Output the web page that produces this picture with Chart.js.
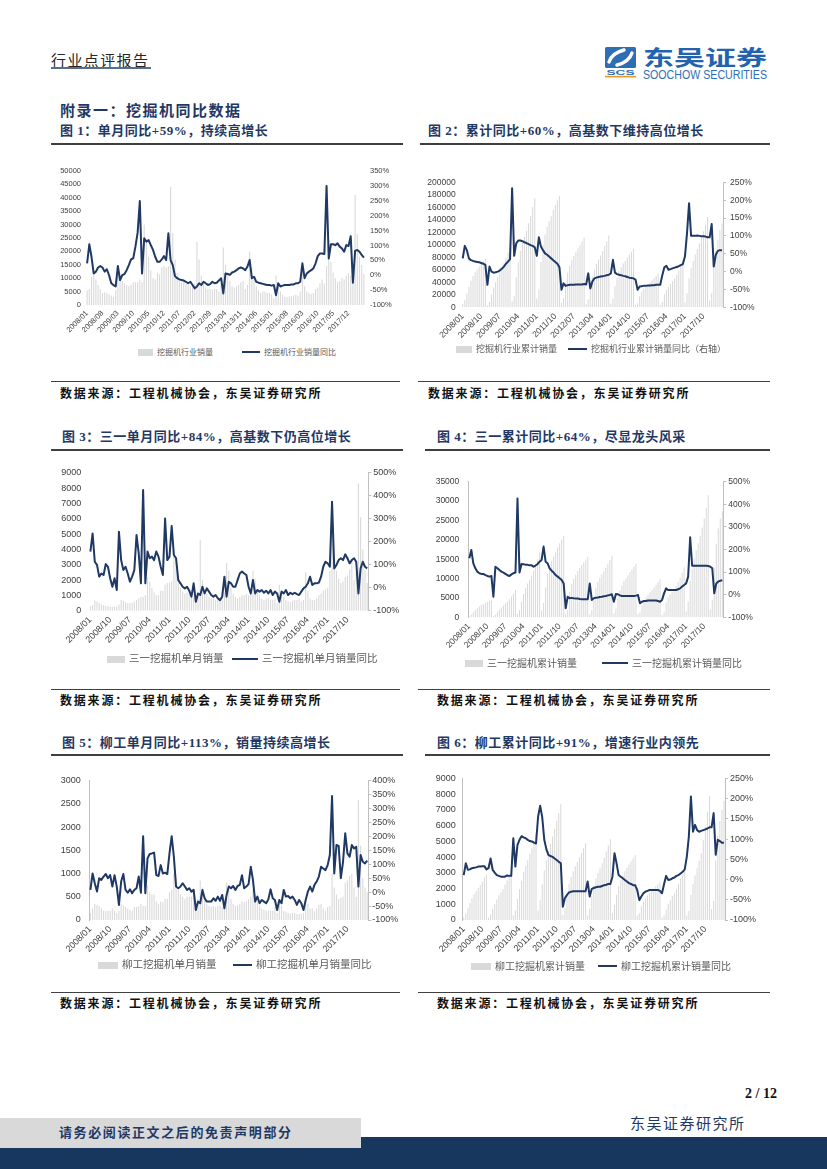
<!DOCTYPE html>
<html>
<head>
<meta charset="utf-8">
<title>挖掘机同比数据</title>
<script src="https://cdn.jsdelivr.net/npm/chart.js@4.4.1/dist/chart.umd.min.js"></script>
<style>
  html, body { margin: 0; padding: 0; background: #fff; }
  #page { position: relative; width: 827px; height: 1169px; overflow: hidden; background: #fff;
          font-family: 'Noto Sans CJK SC', sans-serif; }
  .t { position: absolute; white-space: nowrap; line-height: 1; }
  .head { font-size: 15px; color: #262626; letter-spacing: 1.4px; }
  .sec { font-size: 15px; font-weight: bold; color: #1F3864; letter-spacing: 1.5px; }
  .title { font-family: 'Liberation Serif', 'Noto Sans CJK SC', serif; font-size: 13px; font-weight: bold;
           color: #1F3864; letter-spacing: 0.5px; }
  .src { font-size: 12px; font-weight: bold; color: #111; letter-spacing: 1.8px; }
  .rule { position: absolute; height: 2px; background: #3F3F3F; }
  .thin { position: absolute; height: 1px; background: #404040; }
  .lg { position: absolute; white-space: nowrap; line-height: 1; color: #595959; }
  .sw { position: absolute; }
  canvas { position: absolute; }
</style>
</head>
<body>
<div id="page">
  <div class="t head" style="left:51px;top:51.5px;">行业点评报告</div>
  <div style="position:absolute;left:51px;top:67px;width:100px;height:2px;background:#586F8C;"></div>

  <svg style="position:absolute;left:603px;top:44px;" width="170" height="40" viewBox="0 0 170 40">
    <rect x="2" y="3" width="31" height="21" rx="1.5" fill="#2F6EB5"/>
    <path d="M6 18 Q9 9 21 6" stroke="#fff" stroke-width="3.4" fill="none" stroke-linecap="round"/>
    <path d="M14 21 Q26 18 29 9" stroke="#fff" stroke-width="3.4" fill="none" stroke-linecap="round"/>
    <text x="17.5" y="30.7" font-size="6.5" font-weight="bold" fill="#2F6EB5" text-anchor="middle"
          font-family="Liberation Sans, Arial, sans-serif" textLength="28" lengthAdjust="spacingAndGlyphs">SCS</text>
    <rect x="2" y="31.8" width="31" height="1.6" fill="#F0961E"/>
    <text x="40" y="20.5" font-size="21" font-weight="bold" fill="#2262AE" font-family="Noto Sans CJK SC, sans-serif"
          textLength="124" lengthAdjust="spacingAndGlyphs">东吴证券</text>
    <text x="40" y="34.7" font-size="12" fill="#2F6EB5" font-family="Liberation Sans, Arial, sans-serif"
          textLength="124" lengthAdjust="spacingAndGlyphs">SOOCHOW SECURITIES</text>
  </svg>

  <div class="t sec" style="left:60px;top:101.7px;">附录一：挖掘机同比数据</div>

  <div class="t title" style="left:60px;top:123.5px;">图 1：单月同比+59%，持续高增长</div>
  <div class="t title" style="left:428px;top:123.5px;">图 2：累计同比+60%，高基数下维持高位增长</div>
  <div class="rule" style="left:51px;top:143px;width:352px;"></div>
  <div class="rule" style="left:420px;top:143px;width:350px;"></div>

  <div class="thin" style="left:51px;top:381px;width:349px;"></div>
  <div class="thin" style="left:418px;top:381px;width:352px;"></div>
  <div class="t src" style="left:60px;top:386.7px;">数据来源：工程机械协会，东吴证券研究所</div>
  <div class="t src" style="left:428px;top:386.7px;">数据来源：工程机械协会，东吴证券研究所</div>

  <div class="t title" style="left:62px;top:430px;">图 3：三一单月同比+84%，高基数下仍高位增长</div>
  <div class="t title" style="left:437px;top:430px;">图 4：三一累计同比+64%，尽显龙头风采</div>
  <div class="rule" style="left:51px;top:448.5px;width:352px;"></div>
  <div class="rule" style="left:425px;top:448.5px;width:345px;"></div>

  <div class="thin" style="left:51px;top:689px;width:349px;"></div>
  <div class="thin" style="left:418px;top:689px;width:352px;"></div>
  <div class="t src" style="left:60px;top:694px;">数据来源：工程机械协会，东吴证券研究所</div>
  <div class="t src" style="left:437px;top:694px;">数据来源：工程机械协会，东吴证券研究所</div>

  <div class="t title" style="left:62px;top:736px;">图 5：柳工单月同比+113%，销量持续高增长</div>
  <div class="t title" style="left:437px;top:736px;">图 6：柳工累计同比+91%，增速行业内领先</div>
  <div class="rule" style="left:51px;top:754px;width:352px;"></div>
  <div class="rule" style="left:425px;top:754px;width:345px;"></div>

  <div class="thin" style="left:51px;top:992px;width:349px;"></div>
  <div class="thin" style="left:418px;top:992px;width:352px;"></div>
  <div class="t src" style="left:60px;top:997px;">数据来源：工程机械协会，东吴证券研究所</div>
  <div class="t src" style="left:437px;top:997px;">数据来源：工程机械协会，东吴证券研究所</div>

  <div class="t" style="right:50px;top:1087px;font-family:'Liberation Serif',serif;font-weight:bold;font-size:14px;color:#111;">2 / 12</div>
  <div class="t" style="left:630px;top:1114.7px;font-size:15px;color:#1F3864;letter-spacing:1.5px;">东吴证券研究所</div>

  <div style="position:absolute;left:0;top:1137px;width:827px;height:32px;background:#17375E;"></div>
  <div style="position:absolute;left:0;top:1118px;width:361px;height:30px;background:#D9D9D9;"></div>
  <div class="t" style="left:59px;top:1124.5px;font-size:13px;font-weight:bold;color:#1F3864;letter-spacing:1.6px;">请务必阅读正文之后的免责声明部分</div>
</div>

<script>
// months 2008/01 .. 2018/07
const months = [];
for (let y = 2008; y <= 2018; y++) {
  for (let m = 1; m <= 12; m++) {
    if (months.length < 127) months.push(y + '/' + String(m).padStart(2, '0'));
  }
}

// 图1 挖掘机行业单月销量 (台) / 同比 (%)
const industryMonthly = [
  5500, 6000, 10500, 11000, 9500, 7500, 6000, 4500, 4800, 4500, 4000, 3500,
  3000, 5500, 12000, 11000, 9000, 8000, 7500, 7000, 7500, 8500, 8500, 8500,
  9500, 8500, 30000, 24000, 18000, 13000, 10000, 9500, 12000, 11500, 14000, 14500,
  14000, 14500, 44000, 27000, 17000, 12000, 9500, 8500, 9000, 8000, 7500, 7000,
  7000, 8000, 23500, 17000, 11000, 9000, 6500, 6000, 6000, 5500, 6000, 6000,
  5000, 8000, 21500, 15000, 11000, 9000, 7000, 6500, 7000, 7500, 8500, 9000,
  6000, 7500, 20000, 14000, 10000, 7000, 5500, 4500, 5000, 5000, 4500, 4500,
  4000, 2500, 11000, 7500, 5000, 3800, 3200, 3000, 3300, 3300, 3500, 3900,
  3500, 5000, 12500, 7000, 5000, 4500, 4000, 4500, 6000, 6500, 8000, 9500,
  8000, 14500, 24000, 16000, 12000, 10000, 8500, 9000, 10000, 9500, 11000, 12000,
  11000, 11500, 41000, 26500, 18000, 15000, 11500
];
const industryMonthlyYoY = [
  40, 104, 62, 6, 12, 26, 31, 26, 12, 20, 0, -27,
  -33, -38, 31, -16, 0, 4, 17, 34, 53, 57, 96, 143,
  249, 6, 124, 113, 118, 101, 85, 62, 45, 45, 53, 64,
  51, 141, 51, 34, -3, -10, -14, -16, -18, -22, -27, -22,
  -33, -44, -38, -27, -33, -22, -27, -33, -30, -22, -27, -25,
  -18, -10, -61, 6, 4, 1, 9, 12, 17, 23, 26, 23,
  17, 29, 51, -10, -5, -22, -25, -27, -29, -31, -33, -33,
  -35, -33, -67, -27, -38, -35, -33, -33, -33, -31, -31, -27,
  -27, -22, 40, -10, 6, 12, 17, 23, 40, 64, 73, 73,
  71, 300, 56, 104, 104, 101, 107, 96, 90, 79, 101, 98,
  131, -25, 82, 85, 79, 68, 59
];

// 图2 挖掘机行业累计销量 (台) / 累计同比 (%)
const industryCum = [
  5500, 11500, 22000, 33000, 42500, 50000, 56000, 60500, 65300, 69800, 73800, 77300,
  3000, 8500, 20500, 31500, 40500, 48500, 56000, 63000, 70500, 79000, 87500, 96000,
  9500, 18000, 48000, 72000, 90000, 103000, 113000, 122500, 134500, 146000, 160000, 174500,
  14000, 28500, 72500, 99500, 116500, 128500, 138000, 146500, 155500, 163500, 171000, 178000,
  7000, 15000, 38500, 55500, 66500, 75500, 82000, 88000, 94000, 99500, 105500, 111500,
  5000, 13000, 34500, 49500, 60500, 69500, 76500, 83000, 90000, 97500, 106000, 115000,
  6000, 13500, 33500, 47500, 57500, 64500, 70000, 74500, 79500, 84500, 89000, 93500,
  4000, 6500, 17500, 25000, 30000, 33800, 37000, 40000, 43300, 46600, 50100, 54000,
  3500, 8500, 21000, 28000, 33000, 37500, 41500, 46000, 52000, 58500, 66500, 76000,
  8000, 22500, 46500, 62500, 74500, 84500, 93000, 102000, 112000, 121500, 132500, 144500,
  11000, 22500, 63500, 90000, 108000, 123000, 134500
];
const industryCumYoY = [
  37, 72, 60, 37, 32, 30, 28, 27, 26, 24, 22, 19,
  -37, 14, 0, -3, -2, 0, 3, 8, 14, 22, 28, 35,
  233, 44, 79, 87, 87, 85, 82, 80, 77, 74, 72, 68,
  44, 96, 70, 60, 51, 47, 42, 37, 32, 27, 22, 12,
  -51, -33, -40, -38, -37, -37, -37, -36, -36, -36, -36, -35,
  -36, -5, -47, -28, -19, -17, -15, -14, -13, -12, -10, -9,
  -5, 33, -3, -7, -9, -10, -12, -13, -15, -17, -18, -19,
  -23, -51, -42, -41, -40, -40, -39, -39, -38, -38, -37, -37,
  -37, -10, 12, 16, 5, 7, 9, 11, 13, 15, 18, 21,
  42, 107, 191, 100, 100, 100, 101, 100, 99, 99, 98, 96,
  96, 133, 14, 47, 58, 60, 60
];

// 图3 三一单月销量 / 同比
const sanyMonthly = [
  300, 350, 650, 600, 500, 400, 350, 300, 300, 250, 250, 250,
  250, 400, 700, 650, 550, 500, 500, 500, 600, 700, 800, 900,
  900, 1000, 2200, 1900, 1500, 1200, 1000, 1000, 1300, 1300, 1700, 1800,
  1800, 1900, 4000, 3500, 1800, 1500, 1200, 1100, 1200, 1100, 1000, 900,
  900, 1100, 4600, 2000, 1300, 1100, 900, 800, 800, 700, 700, 700,
  700, 1200, 3100, 2600, 1500, 1100, 900, 800, 900, 1000, 1000, 1100,
  1000, 1300, 2600, 2100, 1300, 1000, 800, 700, 800, 800, 700, 700,
  800, 500, 1700, 1300, 900, 700, 600, 550, 650, 700, 700, 800,
  600, 700, 2500, 1300, 800, 700, 700, 800, 1000, 1100, 1300, 1400,
  1500, 2600, 5200, 3300, 2600, 2100, 1800, 1900, 2200, 2300, 2700, 3300,
  2000, 2500, 8300, 6100, 4000, 2600, 1800
];
const sanyMonthlyYoY = [
  157, 236, 113, 99, 48, 62, 55, 103, 91, 41, 4, 41,
  -10, 243, 120, 77, 91, 62, 26, 48, 77, 229, 149, 19,
  425, 19, 157, 128, 135, 120, 157, 135, 91, 55, 301, 120,
  135, 268, 142, 128, 33, 19, 4, -3, 4, -13, -39, 19,
  -61, -25, -32, 4, -25, -3, -17, -32, -39, -32, -46, -54,
  -39, 48, -39, 26, 19, 4, 4, 33, 62, 70, 62, 55,
  4, -25, 33, -25, -10, -17, -10, -22, -13, -25, -10, -32,
  -17, -25, -61, -17, -25, -10, -32, -22, -28, -22, -28, -32,
  -17, -3, 4, 19, 48, 12, 19, 19, 22, 48, 91, 113,
  106, 91, 374, 84, 99, 120, 128, 120, 145, 128, 106, 120,
  128, 113, -25, 84, 113, 91, 84
];

// 图4 三一累计销量 / 累计同比
const sanyCum = [
  300, 650, 1300, 1900, 2400, 2800, 3150, 3450, 3750, 4000, 4250, 4500,
  250, 650, 1350, 2000, 2550, 3050, 3550, 4050, 4650, 5350, 6150, 7050,
  900, 1900, 4100, 6000, 7500, 8700, 9700, 10700, 12000, 13300, 15000, 16800,
  1800, 3700, 7700, 11200, 13000, 14500, 15700, 16800, 18000, 19100, 20100, 21000,
  900, 2000, 6600, 8600, 9900, 11000, 11900, 12700, 13500, 14200, 14900, 15600,
  700, 1900, 5000, 7600, 9100, 10200, 11100, 11900, 12800, 13800, 14800, 15900,
  1000, 2300, 4900, 7000, 8300, 9300, 10100, 10800, 11600, 12400, 13100, 13800,
  800, 1300, 3000, 4300, 5200, 5900, 6500, 7050, 7700, 8400, 9100, 9900,
  600, 1300, 3800, 5100, 5900, 6600, 7300, 8100, 9100, 10200, 11500, 12900,
  1500, 4100, 9300, 12600, 15200, 17300, 19100, 21000, 23200, 25500, 28200, 31500,
  2000, 4500, 12800, 18900, 22900, 25500, 27300
];
const sanyCumYoY = [
  161, 198, 139, 117, 102, 95, 92, 92, 87, 83, 80, 83,
  -9, 124, 117, 109, 102, 98, 92, 86, 83, 90, 95, 98,
  426, 98, 136, 135, 133, 132, 130, 130, 124, 129, 136, 146,
  154, 213, 146, 139, 117, 106, 98, 87, 80, 73, 65, 50,
  -60, -9, -16, -14, -16, -17, -17, -19, -20, -20, -20, -20,
  50, -23, -16, -13, -12, -10, -9, -7, -6, -3, -1, 2,
  -31, 3, 2, -3, -6, -6, -6, -6, -6, -6, -6, -4,
  -1, -38, -31, -28, -28, -26, -26, -26, -26, -26, -28, -31,
  -23, 6, 28, 21, 21, 21, 21, 21, 24, 28, 36, 43,
  50, 80, 254, 128, 128, 128, 128, 128, 128, 128, 128, 127,
  124, 117, 6, 50, 58, 62, 64
];

// 图5 柳工单月销量 / 同比
const liugongMonthly = [
  150, 250, 350, 330, 300, 250, 200, 200, 200, 200, 250, 200,
  150, 200, 350, 320, 280, 250, 220, 200, 280, 280, 300, 350,
  300, 300, 750, 600, 550, 550, 400, 350, 400, 380, 450, 450,
  600, 650, 1000, 900, 650, 550, 500, 450, 500, 500, 500, 550,
  300, 450, 850, 700, 450, 350, 300, 280, 300, 280, 300, 320,
  280, 450, 800, 650, 450, 350, 300, 320, 350, 400, 380, 400,
  450, 500, 650, 550, 400, 300, 250, 220, 200, 200, 200, 200,
  280, 150, 450, 300, 200, 180, 150, 130, 150, 150, 130, 130,
  130, 150, 380, 350, 250, 250, 200, 250, 330, 350, 250, 200,
  280, 300, 1000, 700, 550, 450, 480, 500, 800, 850, 950, 1000,
  700, 500, 2580, 1600, 900, 700, 600
];
const liugongMonthlyYoY = [
  8, 67, 32, 2, 50, 44, 56, 65, 50, 61, 20, 61,
  20, -46, 38, 65, 8, -2, 10, -4, 8, 14, 56, -2,
  201, -4, 121, 137, 139, 142, 61, 58, 97, 67, 70, 65,
  139, 201, 127, 20, 14, 20, 32, 20, 8, 14, 2, 8,
  -64, -34, -40, 8, -22, -34, -34, -34, -22, -31, -16, -31,
  -10, -58, -10, 20, 14, 22, 8, 22, 26, 61, 14, 20,
  29, 91, 44, -34, -16, -40, -28, -34, -40, -26, 10, -22,
  -28, -64, -28, -40, 8, -16, -14, -22, -16, -28, -46, -28,
  -40, -64, -28, 2, 20, 2, 26, 38, 56, 91, 85, 79,
  97, 133, 345, 67, 169, 166, 50, 109, 211, 139, 127, 169,
  157, 163, 20, 133, 109, 103, 113
];

// 图6 柳工累计销量 / 累计同比
const liugongCum = [
  150, 400, 750, 1080, 1380, 1630, 1830, 2030, 2230, 2430, 2680, 2880,
  150, 350, 700, 1020, 1300, 1550, 1770, 1970, 2250, 2530, 2830, 3180,
  300, 600, 1350, 1950, 2500, 3050, 3450, 3800, 4200, 4580, 5030, 5480,
  600, 1250, 2250, 3150, 3800, 4350, 4850, 5300, 5800, 6300, 6800, 7350,
  300, 750, 1600, 2300, 2750, 3100, 3400, 3680, 3980, 4260, 4560, 4880,
  280, 730, 1530, 2180, 2630, 2980, 3280, 3600, 3950, 4350, 4730, 5130,
  450, 950, 1600, 2150, 2550, 2850, 3100, 3320, 3520, 3720, 3920, 4120,
  280, 430, 880, 1180, 1380, 1560, 1710, 1840, 1990, 2140, 2270, 2400,
  130, 280, 660, 1010, 1260, 1510, 1710, 1960, 2290, 2640, 2890, 3090,
  280, 580, 1580, 2280, 2830, 3280, 3760, 4260, 5060, 5910, 6860, 7860,
  700, 1200, 3780, 5380, 6280, 6980, 7580
];
const liugongCumYoY = [
  11, 40, 24, 25, 28, 29, 30, 32, 32, 33, 33, 25,
  28, 52, 24, 17, 11, 9, 7, 7, 7, 10, 9, 9,
  102, 32, 85, 98, 107, 104, 102, 98, 95, 94, 91, 89,
  155, 182, 154, 98, 75, 61, 58, 56, 52, 48, 44, 40,
  -67, -46, -38, -32, -30, -29, -29, -29, -29, -29, -29, -29,
  -5, -42, -23, -21, -19, -18, -18, -16, -14, -13, -11, -11,
  7, 65, 40, 11, 7, 3, -1, -5, -9, -11, -14, -14,
  -26, -51, -42, -34, -30, -28, -26, -26, -26, -26, -26, -28,
  -34, -11, 9, -1, 0, 3, 5, 9, 11, 15, 19, 25,
  56, 106, 205, 118, 135, 122, 118, 120, 122, 124, 126, 129,
  129, 164, 61, 98, 95, 91, 91
];

const BAR_COLOR = '#D9D9D9';
const LINE_COLOR = '#1F3864';
const AXIS_COLOR = '#BFBFBF';
const TEXT_COLOR = '#404040';
const NUM_FONT = "'Liberation Sans', Arial, sans-serif";

// lg: [box left, box width, line left, line width]
const charts = [
  { left: 48, top: 150, width: 354, plotL: 86, plotR: 365, plotT: 171, plotB: 305, legendY: 352,
    tickFont: 7.5, legendFont: 8, lg: [138, 15, 242, 18], step: 7, lPad: 5, rPad: 5,
    bars: industryMonthly, line: industryMonthlyYoY, yMax: 50000, yStep: 5000, pMin: -100, pMax: 350, pStep: 50,
    names: ['挖掘机行业销量', '挖掘机行业销量同比'], leftBorder: false, rightAxis: false },
  { left: 420, top: 150, width: 357, plotL: 461.7, plotR: 723, plotT: 182.3, plotB: 307.3, legendY: 349,
    tickFont: 8.5, legendFont: 9, lg: [456, 16, 568, 19], step: 9, lPad: 6, rPad: 4,
    bars: industryCum, line: industryCumYoY, yMax: 200000, yStep: 20000, pMin: -100, pMax: 250, pStep: 50,
    names: ['挖掘机行业累计销量', '挖掘机行业累计销量同比（右轴）'], leftBorder: false, rightAxis: true },
  { left: 48, top: 455, width: 360, plotL: 89.3, plotR: 368.3, plotT: 472.7, plotB: 610.7, legendY: 659,
    tickFont: 9, legendFont: 10.5, lg: [107, 18, 232, 26], step: 9, lPad: 8, rPad: 2,
    bars: sanyMonthly, line: sanyMonthlyYoY, yMax: 9000, yStep: 1000, pMin: -100, pMax: 500, pStep: 100,
    names: ['三一挖掘机单月销量', '三一挖掘机单月销量同比'], leftBorder: false, rightAxis: true },
  { left: 420, top: 455, width: 357, plotL: 468.3, plotR: 723.3, plotT: 481.7, plotB: 617.3, legendY: 663,
    tickFont: 8.5, legendFont: 10, lg: [465, 18, 602, 26], step: 9, lPad: 9, rPad: 2,
    bars: sanyCum, line: sanyCumYoY, yMax: 35000, yStep: 5000, pMin: -100, pMax: 500, pStep: 100,
    names: ['三一挖掘机累计销量', '三一挖掘机累计销量同比'], leftBorder: true, rightAxis: true },
  { left: 48, top: 760, width: 360, plotL: 89.3, plotR: 368.3, plotT: 780.7, plotB: 920, legendY: 965,
    tickFont: 9, legendFont: 10.5, lg: [98, 20, 233, 19], step: 9, lPad: 8.5, rPad: 1,
    bars: liugongMonthly, line: liugongMonthlyYoY, yMax: 3000, yStep: 500, pMin: -100, pMax: 400, pStep: 50,
    names: ['柳工挖掘机单月销量', '柳工挖掘机单月销量同比'], leftBorder: true, rightAxis: true },
  { left: 420, top: 760, width: 357, plotL: 462.7, plotR: 725, plotT: 778.3, plotB: 920, legendY: 966,
    tickFont: 9, legendFont: 10, lg: [471, 20, 598, 19], step: 9, lPad: 7, rPad: 2,
    bars: liugongCum, line: liugongCumYoY, yMax: 9000, yStep: 1000, pMin: -100, pMax: 250, pStep: 50,
    names: ['柳工挖掘机累计销量', '柳工挖掘机累计销量同比'], leftBorder: true, rightAxis: true }
];

function addLegend(c) {
  const page = document.getElementById('page');
  const [boxL, boxW, lineL, lineW] = c.lg;
  const items = [
    { x: boxL, w: boxW, h: 7, color: BAR_COLOR, text: c.names[0] },
    { x: lineL, w: lineW, h: 2, color: LINE_COLOR, text: c.names[1] }
  ];
  items.forEach(it => {
    const sw = document.createElement('div');
    sw.className = 'sw';
    sw.style.cssText = `left:${it.x}px;top:${c.legendY - it.h / 2}px;width:${it.w}px;height:${it.h}px;background:${it.color};`;
    page.appendChild(sw);
    const tx = document.createElement('div');
    tx.className = 'lg';
    tx.textContent = it.text;
    tx.style.cssText = `left:${it.x + it.w + 4}px;top:${c.legendY - c.legendFont * 0.55}px;font-size:${c.legendFont}px;`;
    page.appendChild(tx);
  });
}

function makeChart(c) {
  const xh = 40;
  const H = Math.round(c.plotB - c.top + xh);

  const canvas = document.createElement('canvas');
  canvas.width = c.width;
  canvas.height = H;
  canvas.style.left = c.left + 'px';
  canvas.style.top = c.top + 'px';
  document.getElementById('page').appendChild(canvas);

  const tickFont = { family: NUM_FONT, size: c.tickFont };

  new Chart(canvas, {
    type: 'bar',
    data: {
      labels: months,
      datasets: [
        { type: 'bar', label: c.names[0], data: c.bars, yAxisID: 'y', order: 2,
          backgroundColor: BAR_COLOR, borderWidth: 0, barPercentage: 0.5, categoryPercentage: 1 },
        { type: 'line', label: c.names[1], data: c.line, yAxisID: 'y2', order: 1,
          borderColor: LINE_COLOR, backgroundColor: LINE_COLOR, borderWidth: 2, borderJoinStyle: 'round',
          pointRadius: 0, tension: 0, fill: false }
      ]
    },
    options: {
      responsive: false,
      maintainAspectRatio: false,
      animation: false,
      devicePixelRatio: 1,
      layout: { padding: { top: c.plotT - c.top, left: 0, right: 0, bottom: H - (c.plotB - c.top) - xh } },
      plugins: {
        tooltip: { enabled: false },
        legend: { display: false }
      },
      scales: {
        x: {
          type: 'category',
          offset: true,
          grid: { display: false, drawTicks: false },
          border: { display: false },
          ticks: {
            autoSkip: false, maxRotation: 45, minRotation: 45, padding: 4,
            font: tickFont, color: TEXT_COLOR,
            callback: (v, i) => (i % c.step === 0 && i < months.length - 1) ? months[i] : ''
          },
          afterFit: (axis) => { axis.height = xh; }
        },
        y: {
          position: 'left',
          min: 0, max: c.yMax,
          grid: { display: false, drawTicks: false },
          border: { display: c.leftBorder, color: AXIS_COLOR },
          ticks: { stepSize: c.yStep, autoSkip: false, padding: c.lPad, font: tickFont, color: TEXT_COLOR,
                   callback: (v) => String(v) },
          afterFit: (axis) => { axis.width = c.plotL - c.left; }
        },
        y2: {
          position: 'right',
          min: c.pMin, max: c.pMax,
          grid: { display: c.rightAxis, drawOnChartArea: false, drawTicks: c.rightAxis,
                  tickLength: 3, color: AXIS_COLOR },
          border: { display: c.rightAxis, color: AXIS_COLOR },
          ticks: { stepSize: c.pStep, autoSkip: false, padding: c.rPad, font: tickFont,
                   color: TEXT_COLOR, callback: (v) => v + '%' },
          afterFit: (axis) => { axis.width = c.left + c.width - c.plotR; }
        }
      }
    }
  });

  addLegend(c);
}

charts.forEach(makeChart);
</script>
</body>
</html>
